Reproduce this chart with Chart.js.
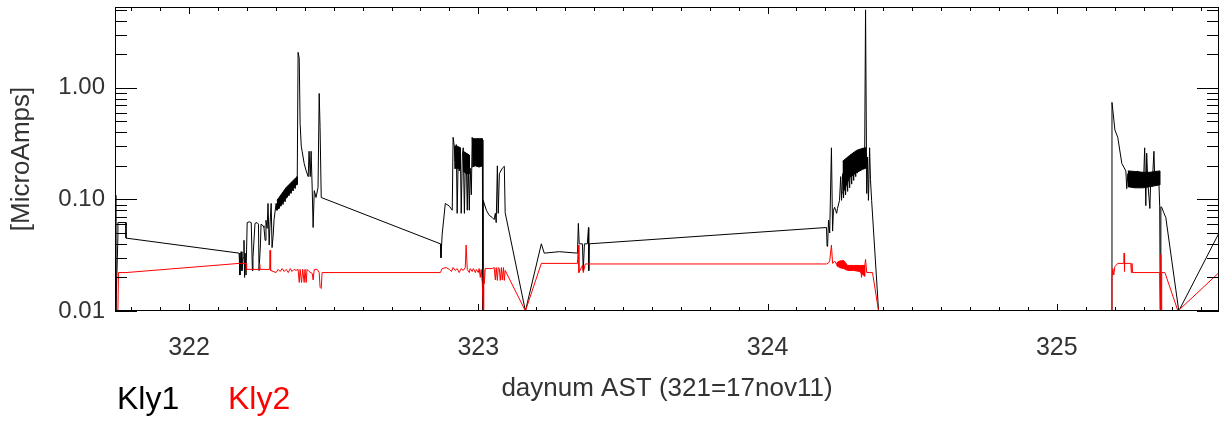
<!DOCTYPE html>
<html>
<head>
<meta charset="utf-8">
<script src="https://cdn.jsdelivr.net/npm/chart.js@4/dist/chart.umd.min.js"></script>
<style>
  html, body { margin: 0; padding: 0; background: #fff; }
  #wrap { width: 1222px; height: 421px; position: relative; }
</style>
</head>
<body>
<div id="wrap"><canvas id="chart"></canvas></div>
<script>
// day number (AST) and klystron current [MicroAmps]
const kly1Day = [
  321.744, 321.747, 321.754, 321.754, 321.782, 321.782, 322.173, 322.176, 322.180, 322.183,
  322.187, 322.190, 322.192, 322.194, 322.197, 322.201, 322.208, 322.215, 322.219, 322.221,
  322.228, 322.235, 322.240, 322.242, 322.247, 322.249, 322.256, 322.259, 322.263, 322.266,
  322.270, 322.273, 322.277, 322.280, 322.284, 322.287, 322.291, 322.294,
  322.301, 322.304, 322.308, 322.311, 322.315, 322.318, 322.322, 322.325, 322.329, 322.332,
  322.336, 322.339, 322.343, 322.346, 322.350, 322.353, 322.356, 322.360, 322.363, 322.367,
  322.370, 322.374,
  322.377, 322.381, 322.384, 322.388, 322.391, 322.398, 322.405, 322.412, 322.415, 322.419,
  322.422, 322.426, 322.429, 322.433, 322.439, 322.446, 322.450, 322.453, 322.457,
  322.869, 322.871, 322.875, 322.886, 322.900, 322.910, 322.913, 322.917, 322.920, 322.924,
  322.927, 322.931, 322.934, 322.938, 322.941, 322.945, 322.948, 322.952, 322.955, 322.958,
  322.962, 322.965, 322.969, 322.972, 322.976, 322.979, 322.983, 322.986, 322.990, 322.993,
  322.997, 323.000, 323.003, 323.007, 323.010, 323.014, 323.016, 323.017, 323.028, 323.038,
  323.048, 323.055, 323.059, 323.062, 323.066, 323.069, 323.073, 323.083, 323.090, 323.093,
  323.163, 323.218, 323.228, 323.280, 323.343, 323.346, 323.349, 323.360, 323.363, 323.367,
  323.377, 323.381, 323.382, 323.384,
  324.204, 324.206, 324.208, 324.211, 324.215, 324.221, 324.225, 324.228, 324.232, 324.239,
  324.242, 324.249,
  324.253, 324.256, 324.260, 324.263, 324.266, 324.270, 324.273, 324.277, 324.280, 324.284,
  324.287, 324.291, 324.294, 324.298, 324.301, 324.305, 324.308, 324.311, 324.315, 324.318,
  324.322, 324.325, 324.329, 324.332, 324.336, 324.339, 324.343, 324.346, 324.349, 324.353,
  324.356, 324.360, 324.384,
  325.190, 325.191, 325.194, 325.201, 325.211, 325.225, 325.239, 325.242,
  325.246, 325.249, 325.253, 325.256, 325.260, 325.263, 325.267, 325.270, 325.273, 325.277,
  325.280, 325.284, 325.287, 325.291, 325.294, 325.298, 325.301, 325.304, 325.308, 325.311,
  325.315, 325.322, 325.325, 325.329, 325.332, 325.336, 325.339, 325.342, 325.346, 325.349,
  325.353, 325.356, 325.358, 325.360, 325.363, 325.370, 325.377, 325.422, 325.561
];
const kly1Amp = [
  0.109, 0.010, 0.046, 0.062, 0.062, 0.045, 0.033, 0.021, 0.034, 0.023,
  0.030, 0.043, 0.020, 0.033, 0.021, 0.062, 0.063, 0.062, 0.023, 0.030,
  0.061, 0.062, 0.060, 0.023, 0.040, 0.060, 0.058, 0.056, 0.043, 0.065,
  0.055, 0.092, 0.039, 0.060, 0.092, 0.037, 0.048, 0.066,
  0.092, 0.080, 0.101, 0.083, 0.105, 0.087, 0.110, 0.090, 0.115, 0.095,
  0.127, 0.104, 0.131, 0.108, 0.136, 0.113, 0.142, 0.119, 0.148, 0.125,
  0.155, 0.135,
  2.08, 1.84, 0.48, 0.30, 0.27, 0.21, 0.18, 0.16, 0.27, 0.16,
  0.27, 0.12, 0.056, 0.12, 0.104, 0.128, 0.89, 0.44, 0.104,
  0.040, 0.030, 0.048, 0.092, 0.087, 0.080, 0.36, 0.30, 0.22, 0.31,
  0.075, 0.26, 0.18, 0.28, 0.075, 0.25, 0.29, 0.075, 0.20, 0.26,
  0.080, 0.22, 0.080, 0.19, 0.11, 0.36, 0.20, 0.34, 0.21, 0.34,
  0.20, 0.35, 0.21, 0.34, 0.20, 0.34, 0.010, 0.098, 0.080, 0.072,
  0.069, 0.066, 0.075, 0.062, 0.20, 0.075, 0.17, 0.19, 0.198, 0.076,
  0.010, 0.040, 0.033, 0.034, 0.033, 0.061, 0.040, 0.040, 0.023, 0.040,
  0.040, 0.056, 0.023, 0.040,
  0.056, 0.038, 0.040, 0.065, 0.050, 0.29, 0.052, 0.080, 0.085, 0.075,
  0.083, 0.098,
  0.16, 0.098, 0.17, 0.103, 0.185, 0.110, 0.195, 0.118, 0.205, 0.127,
  0.215, 0.137, 0.225, 0.148, 0.238, 0.160, 0.250, 0.172, 0.262, 0.180,
  0.268, 0.185, 0.272, 0.188, 0.275, 5.0, 0.113, 0.24, 0.098, 0.29,
  0.15, 0.098, 0.010,
  0.010, 0.74, 0.63, 0.42, 0.36, 0.21, 0.18, 0.125,
  0.17, 0.13, 0.17, 0.13, 0.175, 0.13, 0.175, 0.128, 0.175, 0.13,
  0.18, 0.13, 0.17, 0.13, 0.17, 0.13, 0.17, 0.29, 0.088, 0.26,
  0.14, 0.083, 0.15, 0.13, 0.17, 0.27, 0.15, 0.18, 0.14, 0.175,
  0.15, 0.086, 0.010, 0.086, 0.085, 0.076, 0.069, 0.010, 0.050
];

// Kly1 ripple envelopes (dense sampling in the original shows up as solid bands)
const bandDays = [
  [322.304, 322.336, 322.370, 322.374],
  [322.917, 322.927, 322.938],
  [322.948, 322.958, 322.969],
  [322.979, 322.990, 323.003, 323.014],
  [324.260, 324.284, 324.308, 324.329, 324.339],
  [325.246, 325.270, 325.298, 325.322, 325.356]
];
const bandHigh = [
  [0.098, 0.128, 0.157, 0.160],
  [0.30, 0.30, 0.29],
  [0.27, 0.26, 0.25],
  [0.35, 0.35, 0.35, 0.35],
  [0.22, 0.248, 0.275, 0.287, 0.29],
  [0.18, 0.178, 0.175, 0.175, 0.18]
];
const bandLow = [
  [0.080, 0.103, 0.134, 0.138],
  [0.19, 0.19, 0.19],
  [0.18, 0.17, 0.17],
  [0.195, 0.20, 0.195, 0.20],
  [0.113, 0.158, 0.174, 0.186, 0.19],
  [0.13, 0.127, 0.127, 0.13, 0.135]
];

const kly2Day = [
  321.744, 321.746, 321.754, 321.756, 321.782, 322.173, 322.197, 322.199, 322.242, 322.244,
  322.246, 322.279, 322.280, 322.282, 322.301, 322.308, 322.315, 322.322, 322.329, 322.336,
  322.343, 322.350, 322.356, 322.363, 322.370, 322.377, 322.381, 322.384, 322.389, 322.393,
  322.398, 322.401, 322.405, 322.408, 322.415, 322.426, 322.429, 322.433, 322.443, 322.450,
  322.453, 322.457, 322.460,
  322.869, 322.875, 322.889, 322.900, 322.907, 322.913, 322.920, 322.927, 322.934, 322.941,
  322.948, 322.955, 322.958, 322.962, 322.969, 322.972, 322.979, 322.983, 322.990, 322.993,
  323.000, 323.003, 323.007, 323.010, 323.014, 323.017, 323.019, 323.021, 323.024, 323.048,
  323.055, 323.059, 323.062, 323.066, 323.069, 323.073, 323.076, 323.080, 323.083, 323.087,
  323.090, 323.093, 323.163, 323.218, 323.343, 323.346, 323.348, 323.360, 323.363, 323.370,
  324.204, 324.211, 324.215, 324.221, 324.225, 324.232, 324.239, 324.246, 324.253, 324.256,
  324.260, 324.263, 324.266, 324.273, 324.284, 324.294, 324.305, 324.315, 324.322, 324.325,
  324.329, 324.336, 324.339, 324.343, 324.363, 324.384,
  325.190, 325.191, 325.194, 325.197, 325.201, 325.211, 325.232, 325.233, 325.234, 325.235,
  325.256, 325.258, 325.260, 325.262, 325.356, 325.358, 325.360, 325.361, 325.363, 325.374,
  325.419, 325.561
];
const kly2Amp = [
  0.0221, 0.010, 0.010, 0.0221, 0.0221, 0.0267, 0.0267, 0.0236, 0.0236, 0.0267,
  0.0236, 0.0236, 0.035, 0.0231, 0.0221, 0.0236, 0.0226, 0.0240, 0.0226, 0.0236,
  0.0221, 0.0240, 0.0226, 0.0236, 0.0231, 0.0236, 0.0180, 0.0236, 0.0180, 0.0236,
  0.0180, 0.0236, 0.0180, 0.0236, 0.0226, 0.0217, 0.0190, 0.0236, 0.0236, 0.0221,
  0.0163, 0.0159, 0.0221,
  0.0221, 0.0240, 0.0245, 0.0236, 0.0226, 0.0245, 0.0231, 0.0240, 0.0221, 0.0240,
  0.0231, 0.0245, 0.039, 0.0236, 0.0221, 0.0240, 0.0226, 0.0240, 0.0221, 0.0236,
  0.0221, 0.0240, 0.0200, 0.0236, 0.0176, 0.010, 0.0236, 0.0176, 0.0240, 0.0240,
  0.0245, 0.0190, 0.0245, 0.0188, 0.0245, 0.0240, 0.0188, 0.0245, 0.0190, 0.0245,
  0.0188, 0.0231, 0.010, 0.0267, 0.0267, 0.039, 0.0221, 0.0256, 0.0221, 0.0264,
  0.0264, 0.0270, 0.0280, 0.039, 0.0267, 0.0280, 0.0261, 0.0280, 0.0245, 0.0267,
  0.0240, 0.0267, 0.0240, 0.0251, 0.0251, 0.0245, 0.0251, 0.0245, 0.0251, 0.0200,
  0.0245, 0.0251, 0.0290, 0.0221, 0.0221, 0.010,
  0.010, 0.0200, 0.0240, 0.0210, 0.0250, 0.0267, 0.0267, 0.033, 0.0226, 0.0267,
  0.0267, 0.0221, 0.0267, 0.0221, 0.0221, 0.010, 0.032, 0.010, 0.0221, 0.0221,
  0.010, 0.0221
];

// Kly2 jitter block during the day-324 run
const kly2BandDay = [324.239, 324.249, 324.263, 324.277, 324.298, 324.318, 324.336];
const kly2BandHigh = [0.0270, 0.0280, 0.0284, 0.0256, 0.0256, 0.0256, 0.0256];
const kly2BandLow = [0.0255, 0.0245, 0.0240, 0.0231, 0.0231, 0.0226, 0.0205];

const xTickDays = [322, 323, 324, 325];
const yTickAmps = [0.01, 0.1, 1];

const toPoints = (days, amps) => days.map((d, i) => ({ x: d, y: amps[i] }));

// closed outline: along the upper edge, then back along the lower edge
const outline = (days, high, low) => toPoints(days, high)
  .concat(toPoints(days, low).reverse());

const FONT = "'Liberation Sans', Arial, Helvetica, sans-serif";

// IDL-style frame with inward ticks on all four sides, plus the coloured legend words
const framePlugin = {
  id: 'frame',
  afterDraw(chart) {
    const { ctx, chartArea: a, scales } = chart;
    const xs = scales.x, ys = scales.y;
    ctx.save();
    ctx.strokeStyle = '#000';
    ctx.lineWidth = 1;
    ctx.strokeRect(a.left + 0.5, a.top + 0.5, a.right - a.left - 1, a.bottom - a.top - 1);
    ctx.beginPath();
    for (let k = Math.ceil(xs.min * 10); k <= Math.floor(xs.max * 10); k++) {
      const px = Math.round(xs.getPixelForValue(k / 10)) + 0.5;
      const len = k % 10 === 0 ? 7 : 4;
      ctx.moveTo(px, a.bottom); ctx.lineTo(px, a.bottom - len);
      ctx.moveTo(px, a.top); ctx.lineTo(px, a.top + len);
    }
    yTickAmps.forEach(dec => {
      for (let m = 1; m <= 9; m++) {
        const v = dec * m;
        if (v < ys.min || v > ys.max) continue;
        const py = Math.round(ys.getPixelForValue(v)) + 0.5;
        const len = m === 1 ? 22 : 12;
        ctx.moveTo(a.left, py); ctx.lineTo(a.left + len, py);
        ctx.moveTo(a.right, py); ctx.lineTo(a.right - len, py);
      }
    });
    ctx.stroke();

    ctx.font = '32px ' + FONT;
    ctx.textBaseline = 'alphabetic';
    ctx.textAlign = 'left';
    ctx.fillStyle = '#000';
    ctx.fillText('Kly1', 117, 409);
    ctx.fillStyle = '#ff0000';
    ctx.fillText('Kly2', 228, 409);
    ctx.restore();
  }
};

const shapeSet = (label, data, color) => ({
  label: label,
  data: data,
  showLine: true,
  borderColor: color,
  backgroundColor: color,
  borderWidth: 1,
  pointRadius: 0,
  tension: 0,
  fill: 'shape'
});

const bandSets = bandDays.map((d, i) =>
  shapeSet('Kly1 band ' + (i + 1), outline(d, bandHigh[i], bandLow[i]), '#000000'));

new Chart(document.getElementById('chart'), {
  type: 'scatter',
  data: {
    datasets: [
      {
        label: 'Kly2',
        data: toPoints(kly2Day, kly2Amp),
        showLine: true,
        borderColor: '#ff0000',
        borderWidth: 1,
        pointRadius: 0,
        tension: 0
      },
      shapeSet('Kly2 band', outline(kly2BandDay, kly2BandHigh, kly2BandLow), '#ff0000'),
      {
        label: 'Kly1',
        data: toPoints(kly1Day, kly1Amp),
        showLine: true,
        borderColor: '#000000',
        borderWidth: 1,
        pointRadius: 0,
        tension: 0
      },
      ...bandSets
    ]
  },
  options: {
    responsive: true,
    maintainAspectRatio: false,
    animation: false,
    layout: { padding: { left: 0, right: 3, top: 7, bottom: 0 } },
    plugins: {
      legend: { display: false },
      tooltip: { enabled: false }
    },
    scales: {
      x: {
        type: 'linear',
        min: 321.744,
        max: 325.561,
        grid: { display: false, drawTicks: false },
        border: { display: false },
        afterBuildTicks: (scale) => { scale.ticks = xTickDays.map(v => ({ value: v })); },
        afterFit: (scale) => {
          scale.height = 110;
          scale.paddingLeft = 0;
          scale.paddingRight = 0;
        },
        ticks: {
          padding: 22,
          color: '#333',
          font: { family: FONT, size: 25 },
          maxRotation: 0,
          callback: (v) => String(v)
        },
        title: {
          display: true,
          text: 'daynum AST (321=17nov11)',
          color: '#333',
          font: { family: FONT, size: 26 },
          padding: { top: 0, bottom: 17 }
        }
      },
      y: {
        type: 'logarithmic',
        min: 0.01,
        max: 5.3,
        grid: { display: false, drawTicks: false },
        border: { display: false },
        afterBuildTicks: (scale) => { scale.ticks = yTickAmps.map(v => ({ value: v })); },
        afterFit: (scale) => {
          scale.width = 115;
          scale.paddingTop = 0;
          scale.paddingBottom = 0;
        },
        ticks: {
          padding: 10,
          color: '#333',
          font: { family: FONT, size: 24 },
          callback: (v) => Number(v).toFixed(2)
        },
        title: {
          display: true,
          text: '[MicroAmps]',
          color: '#333',
          font: { family: FONT, size: 26 },
          padding: { top: 6, bottom: 0 }
        }
      }
    }
  },
  plugins: [framePlugin]
});
</script>
</body>
</html>
